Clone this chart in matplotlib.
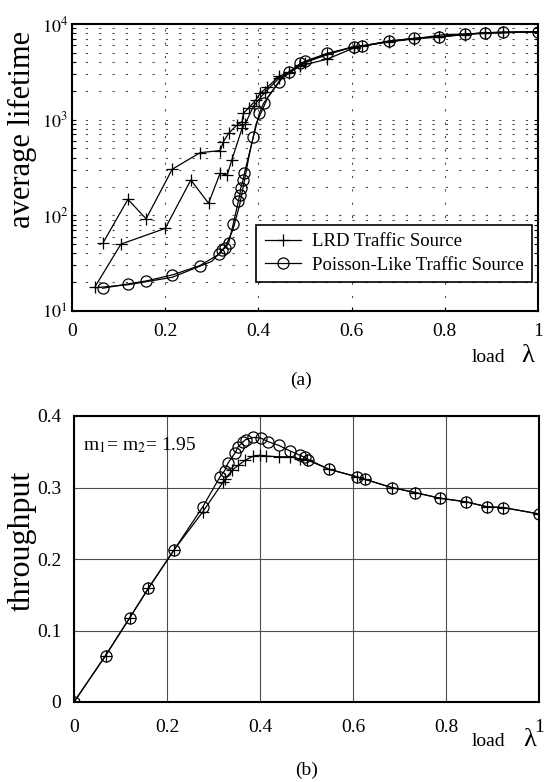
import matplotlib
matplotlib.use("Agg")
import matplotlib.pyplot as plt
from matplotlib.ticker import LogLocator, NullFormatter

plt.rcParams["font.family"] = ["Liberation Serif", "DejaVu Serif"]
plt.rcParams["mathtext.fontset"] = "stix"

# (a) average lifetime vs load
lrd_a_x = [0.066, 0.12, 0.159, 0.215, 0.275, 0.318, 0.325, 0.336, 0.354, 0.365, 0.368,
           0.379, 0.394, 0.404, 0.419, 0.444, 0.466, 0.49, 0.501, 0.548, 0.606, 0.623,
           0.68, 0.733, 0.788, 0.843, 0.886, 0.924, 1.0]
lrd_a_y = [51, 147, 92, 303, 452, 475, 590, 720, 880, 955, 1170, 1320, 1600, 1890, 2180,
           2830, 3160, 3700, 3950, 4900, 5750, 5850, 6600, 7050, 7350, 7800, 8100, 8200, 8300]

lrd_b_x = [0.049, 0.105, 0.2, 0.255, 0.293, 0.318, 0.333, 0.343, 0.365, 0.372, 0.39,
           0.415, 0.444, 0.466, 0.49, 0.548, 0.606, 0.68, 0.733, 0.788, 0.843, 0.886,
           0.924, 1.0]
lrd_b_y = [17.8, 50, 73, 234, 134, 276, 263, 380, 813, 910, 1400, 1960, 2700, 3100,
           3650, 4300, 5650, 6550, 7000, 7300, 7750, 8050, 8150, 8300]

poi_a_x = [0.066, 0.12, 0.159, 0.215, 0.274, 0.315, 0.322, 0.329, 0.336, 0.346, 0.357,
           0.36, 0.362, 0.367, 0.370, 0.389, 0.402, 0.411, 0.444, 0.466, 0.49, 0.501,
           0.548, 0.606, 0.623, 0.68, 0.733, 0.788, 0.843, 0.886, 0.924, 1.0]
poi_a_y = [17.3, 19.2, 20.6, 23.8, 29.8, 39, 43, 46, 51, 81, 140, 163, 192, 234, 276,
           655, 1167, 1480, 2500, 3160, 3870, 4100, 4940, 5790, 5890, 6640, 7080, 7360,
           7800, 8110, 8190, 8310]

poi_b_x = [0.049, 0.12, 0.215, 0.3, 0.33, 0.345, 0.36, 0.37, 0.38, 0.395, 0.42, 0.45,
           0.5, 0.6, 0.8, 1.0]
poi_b_y = [17.5, 18.8, 22.5, 33, 48, 70, 130, 230, 420, 900, 1700, 2700, 4000, 5750,
           7750, 8300]

# (b) throughput vs load
thr_lrd_x = [0, 0.068, 0.12, 0.16, 0.215, 0.277, 0.321, 0.325, 0.34, 0.353, 0.368,
             0.386, 0.40, 0.413, 0.44, 0.465, 0.486, 0.50, 0.549, 0.608, 0.626, 0.683,
             0.733, 0.787, 0.843, 0.888, 0.923, 1.0]
thr_lrd_y = [0, 0.065, 0.118, 0.159, 0.2126, 0.266, 0.308, 0.312, 0.324, 0.331, 0.338,
             0.344, 0.345, 0.344, 0.343, 0.343, 0.340, 0.339, 0.3254, 0.315, 0.3114,
             0.30, 0.293, 0.285, 0.28, 0.273, 0.272, 0.263]

thr_poi_x = [0, 0.068, 0.12, 0.16, 0.215, 0.277, 0.314, 0.324, 0.331, 0.346, 0.353,
             0.364, 0.369, 0.386, 0.402, 0.418, 0.44, 0.465, 0.486, 0.497, 0.504, 0.549,
             0.608, 0.626, 0.683, 0.733, 0.787, 0.843, 0.888, 0.923, 1.0]
thr_poi_y = [0, 0.065, 0.118, 0.159, 0.2126, 0.273, 0.315, 0.3235, 0.334, 0.348, 0.357,
             0.364, 0.367, 0.370, 0.369, 0.364, 0.359, 0.351, 0.345, 0.342, 0.339,
             0.3254, 0.315, 0.3114, 0.30, 0.293, 0.285, 0.28, 0.273, 0.272, 0.263]

x_ticks = [0, 0.2, 0.4, 0.6, 0.8, 1]
x_labels = ["0", "0.2", "0.4", "0.6", "0.8", "1"]
life_ticks = [10, 100, 1000, 10000]
life_labels = [r"$10^{1}$", r"$10^{2}$", r"$10^{3}$", r"$10^{4}$"]
thr_ticks = [0, 0.1, 0.2, 0.3, 0.4]
thr_labels = ["0", "0.1", "0.2", "0.3", "0.4"]

W, H = 548, 782
fig = plt.figure(figsize=(W / 100, H / 100), dpi=100)


def box(l, t, r, b):
    return [l / W, 1 - b / H, (r - l) / W, (b - t) / H]


mk = dict(color="black", lw=0.9, markersize=9, markerfacecolor="none",
          markeredgewidth=0.9)

# ---- panel (a)
ax1 = fig.add_axes(box(72, 24, 538, 311))
ax1.set_yscale("log")
ax1.plot(lrd_a_x, lrd_a_y, marker="+", label="LRD Traffic Source", **mk)
ax1.plot(lrd_b_x, lrd_b_y, marker="+", **mk)
ax1.plot(poi_a_x, poi_a_y, marker="o", label="Poisson-Like Traffic Source",
         **dict(mk, markersize=8))
ax1.plot(poi_b_x, poi_b_y, color="black", lw=0.9)
ax1.set_xlim(0, 1)
ax1.set_ylim(10, 10000)
ax1.set_xticks(x_ticks)
ax1.set_xticklabels(x_labels, fontsize=14)
ax1.set_yticks(life_ticks)
ax1.set_yticklabels(life_labels, fontsize=13)
ax1.yaxis.set_minor_locator(LogLocator(base=10, subs=range(2, 10)))
ax1.yaxis.set_minor_formatter(NullFormatter())
ax1.grid(True, which="both", axis="y", color="0.3", lw=0.8, dashes=(2, 10))
ax1.grid(True, which="major", axis="x", color="0.3", lw=0.8, dashes=(2, 10))
ax1.tick_params(axis="both", which="both", direction="in", right=True, top=False,
                length=3, width=0.8)
ax1.tick_params(axis="x", pad=9)
ax1.tick_params(axis="y", pad=3)
for s in ax1.spines.values():
    s.set_linewidth(1.5)
leg = ax1.legend(loc="lower right", bbox_to_anchor=(0.987, 0.1), fontsize=13.5,
                 frameon=True, fancybox=False, edgecolor="black", framealpha=1,
                 handlelength=1.9, handletextpad=0.6, borderpad=0.45,
                 labelspacing=0.35, borderaxespad=0)
leg.get_frame().set_linewidth(1.2)

fig.text(22 / W, 1 - 129 / H, "average lifetime", rotation=90, fontsize=22,
         ha="center", va="center")
fig.text(488 / W, 1 - 358 / H, "load", fontsize=14, ha="center", va="center")
fig.text(528 / W, 1 - 356 / H, "λ", fontsize=19, ha="center", va="center")
fig.text(301 / W, 1 - 380 / H, "(a)", fontsize=14, ha="center", va="center")

# ---- panel (b)
ax2 = fig.add_axes(box(74, 416, 539, 702))
ax2.plot(thr_lrd_x, thr_lrd_y, marker="+", **mk)
ax2.plot(thr_poi_x, thr_poi_y, marker="o", **dict(mk, markersize=8))
ax2.set_xlim(0, 1)
ax2.set_ylim(0, 0.4)
ax2.set_xticks(x_ticks)
ax2.set_xticklabels(x_labels, fontsize=14)
ax2.set_yticks(thr_ticks)
ax2.set_yticklabels(thr_labels, fontsize=14)
ax2.grid(True, color="0.3", lw=0.8, linestyle="-")
ax2.tick_params(axis="both", length=0)
ax2.tick_params(axis="x", pad=12)
ax2.tick_params(axis="y", pad=9)
for s in ax2.spines.values():
    s.set_linewidth(1.5)
ax2.text(0.02, 0.345, r"m$_1$= m$_2$= 1.95", fontsize=14, ha="left", va="bottom")

fig.text(22 / W, 1 - 541 / H, "throughput", rotation=90, fontsize=23,
         ha="center", va="center")
fig.text(488 / W, 1 - 742 / H, "load", fontsize=14, ha="center", va="center")
fig.text(530 / W, 1 - 740 / H, "λ", fontsize=19, ha="center", va="center")
fig.text(307 / W, 1 - 770 / H, "(b)", fontsize=14, ha="center", va="center")

fig.savefig("out.png", dpi=100)
